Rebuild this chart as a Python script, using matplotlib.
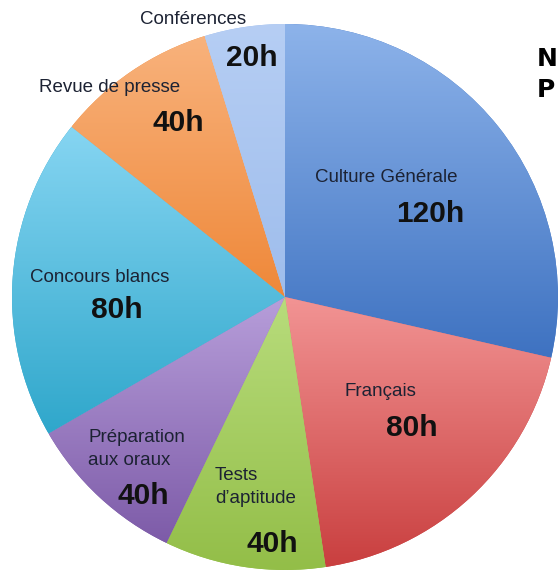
import matplotlib.pyplot as plt
import numpy as np
from matplotlib.colors import to_rgb

W, H = 558, 571

# data
subjects = ["Culture Générale", "Français", "Tests\nd’aptitude", "Préparation\naux oraux",
            "Concours blancs", "Revue de presse", "Conférences"]
hours = [120, 80, 40, 40, 80, 40, 20]
value_labels = [f"{h}h" for h in hours]

# styles: top / bottom colour of each wedge gradient
top_colors = ["#8DB3EA", "#F29494", "#B8DC7C", "#B79EDA", "#86D5F2", "#F8B27C", "#B6CEF4"]
bot_colors = ["#3E72C1", "#C93F3F", "#93BE48", "#7D5BA8", "#2FA7CB", "#EF8839", "#9EBDEC"]

# label layout in pixel coords (x, y from top, ha)
name_pos = [(386, 178, "center"), (380, 392, "center"), (215, 487, "left"),
            (88, 449, "left"), (100, 278, "center"), (110, 88, "center"),
            (193, 20, "center")]
value_pos = [(430, 214), (412, 428), (272, 544), (143, 496), (117, 310),
             (178, 123), (252, 58)]

cx, cy, r = 285, 297, 273

fig = plt.figure(figsize=(W / 100, H / 100), dpi=100)
ax = fig.add_axes([0, 0, 1, 1])

wedges, _ = ax.pie(hours, startangle=90, counterclock=False,
                   center=(cx, H - cy), radius=r,
                   wedgeprops=dict(linewidth=0))

# vertical gradient inside each wedge
for w, c0, c1 in zip(wedges, top_colors, bot_colors):
    ext = w.get_path().get_extents()
    t = np.linspace(0, 1, 256)[:, None, None]
    grad = (1 - t) * np.array(to_rgb(c0)) + t * np.array(to_rgb(c1))
    w.set_facecolor(c1)
    im = ax.imshow(grad, extent=[ext.x0, ext.x1, ext.y0, ext.y1],
                   origin="upper", aspect="auto", zorder=w.get_zorder() + 0.1,
                   interpolation="bilinear")
    im.set_clip_path(w)

for name, (x, y, ha) in zip(subjects, name_pos):
    ax.text(x, H - y, name, ha=ha, va="center", multialignment=ha,
            fontsize=13.5, family="Liberation Sans", color="#1C2233",
            linespacing=1.45, zorder=5)

for lab, (x, y) in zip(value_labels, value_pos):
    ax.text(x, H - y, lab, ha="center", va="center", fontsize=21.5,
            family="Liberation Sans", fontweight="bold", color="#111111", zorder=5)

ax.text(537, H - 59, "N", ha="left", va="center", fontsize=18,
        fontweight="bold", family="DejaVu Sans", color="black")
ax.text(537, H - 90, "P", ha="left", va="center", fontsize=18,
        fontweight="bold", family="DejaVu Sans", color="black")

ax.set_xlim(0, W)
ax.set_ylim(0, H)
ax.set_aspect("equal")
ax.axis("off")

fig.savefig("out.png", dpi=100)
